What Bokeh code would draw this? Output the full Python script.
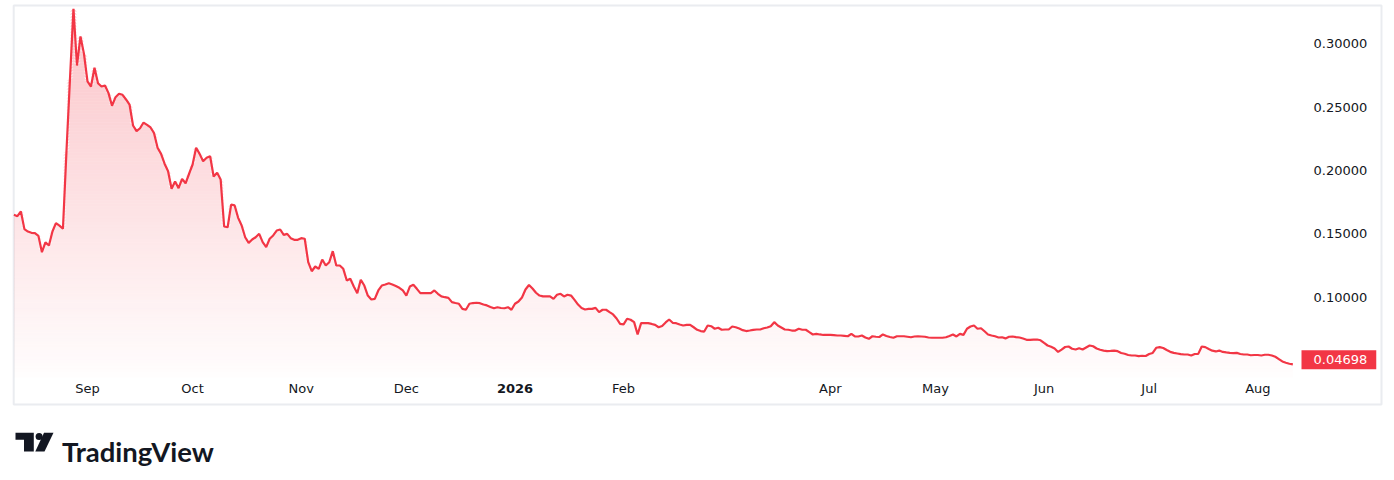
import numpy as np
import pandas as pd
from bokeh.plotting import figure
from bokeh.models import (Range1d, LinearAxis, DatetimeAxis, FixedTicker,
                          NumeralTickFormatter, DatetimeTickFormatter, Label)
from bokeh.core.properties import value
from bokeh.embed import file_html
from bokeh.resources import INLINE

# ---------------- data ----------------
START_DATE = "2025-08-11"
prices = [
    0.1650, 0.1639, 0.1676, 0.1537, 0.1518, 0.1508, 0.1505, 0.1484, 0.1355, 0.1432,
    0.1408, 0.1518, 0.1584, 0.1565, 0.1540, 0.2150, 0.2720, 0.3276, 0.2828, 0.3057,
    0.2920, 0.2702, 0.2662, 0.2810, 0.2688, 0.2662, 0.2670, 0.2610, 0.2510, 0.2578,
    0.2605, 0.2597, 0.2560, 0.2520, 0.2355, 0.2310, 0.2333, 0.2378, 0.2360, 0.2339,
    0.2294, 0.2179, 0.2131, 0.2053, 0.1994, 0.1855, 0.1913, 0.1860, 0.1934, 0.1899,
    0.1974, 0.2047, 0.2179, 0.2131, 0.2073, 0.2100, 0.2112, 0.1952, 0.1982, 0.1929,
    0.1558, 0.1552, 0.1731, 0.1724, 0.1626, 0.1566, 0.1473, 0.1429, 0.1455, 0.1473,
    0.1500, 0.1434, 0.1395, 0.1461, 0.1487, 0.1526, 0.1534, 0.1492, 0.1500, 0.1466,
    0.1453, 0.1453, 0.1466, 0.1461, 0.1276, 0.1205, 0.1242, 0.1224, 0.1297, 0.1250,
    0.1276, 0.1363, 0.1250, 0.1250, 0.1224, 0.1132, 0.1145, 0.1084, 0.1032, 0.1137,
    0.1092, 0.1013, 0.0982, 0.0987, 0.1053, 0.1092, 0.1100, 0.1110, 0.1100, 0.1088,
    0.1074, 0.1053, 0.1013, 0.1084, 0.1098, 0.1066, 0.1032, 0.1032, 0.1032, 0.1032,
    0.1053, 0.1027, 0.1006, 0.1000, 0.0995, 0.0961, 0.0954, 0.0948, 0.0908, 0.0901,
    0.0948, 0.0954, 0.0956, 0.0953, 0.0942, 0.0935, 0.0923, 0.0913, 0.0921, 0.0915,
    0.0913, 0.0921, 0.0901, 0.0948, 0.0966, 0.0998, 0.1061, 0.1096, 0.1069, 0.1035,
    0.1013, 0.1006, 0.1006, 0.1006, 0.0987, 0.1019, 0.1027, 0.1006, 0.1019, 0.1013,
    0.0979, 0.0942, 0.0915, 0.0903, 0.0908, 0.0908, 0.0916, 0.0882, 0.0901, 0.0901,
    0.0882, 0.0864, 0.0832, 0.0790, 0.0785, 0.0830, 0.0822, 0.0803, 0.0706, 0.0795,
    0.0795, 0.0795, 0.0789, 0.0782, 0.0763, 0.0773, 0.0801, 0.0824, 0.0798, 0.0795,
    0.0785, 0.0777, 0.0782, 0.0782, 0.0763, 0.0743, 0.0733, 0.0729, 0.0777, 0.0771,
    0.0751, 0.0759, 0.0743, 0.0745, 0.0745, 0.0769, 0.0763, 0.0753, 0.0740, 0.0733,
    0.0737, 0.0742, 0.0745, 0.0745, 0.0755, 0.0761, 0.0771, 0.0803, 0.0777, 0.0761,
    0.0745, 0.0743, 0.0737, 0.0737, 0.0751, 0.0743, 0.0743, 0.0724, 0.0706, 0.0711,
    0.0706, 0.0702, 0.0703, 0.0703, 0.0701, 0.0698, 0.0698, 0.0695, 0.0692, 0.0711,
    0.0690, 0.0690, 0.0698, 0.0682, 0.0672, 0.0692, 0.0688, 0.0686, 0.0706, 0.0694,
    0.0686, 0.0680, 0.0692, 0.0692, 0.0692, 0.0688, 0.0684, 0.0690, 0.0691, 0.0690,
    0.0688, 0.0682, 0.0680, 0.0680, 0.0680, 0.0680, 0.0684, 0.0694, 0.0706, 0.0690,
    0.0711, 0.0703, 0.0751, 0.0769, 0.0777, 0.0751, 0.0755, 0.0731, 0.0706, 0.0698,
    0.0692, 0.0682, 0.0684, 0.0675, 0.0688, 0.0690, 0.0685, 0.0682, 0.0674, 0.0664,
    0.0664, 0.0665, 0.0666, 0.0660, 0.0639, 0.0619, 0.0609, 0.0595, 0.0568, 0.0587,
    0.0607, 0.0611, 0.0593, 0.0587, 0.0598, 0.0587, 0.0603, 0.0619, 0.0613, 0.0595,
    0.0585, 0.0579, 0.0575, 0.0576, 0.0579, 0.0574, 0.0560, 0.0554, 0.0544, 0.0540,
    0.0540, 0.0535, 0.0538, 0.0536, 0.0552, 0.0560, 0.0601, 0.0606, 0.0599, 0.0583,
    0.0569, 0.0561, 0.0556, 0.0551, 0.0548, 0.0548, 0.0540, 0.0552, 0.0553, 0.0611,
    0.0606, 0.0591, 0.0578, 0.0572, 0.0579, 0.0568, 0.0564, 0.0561, 0.0559, 0.0561,
    0.0552, 0.0548, 0.0548, 0.0542, 0.0544, 0.0544, 0.0540, 0.0546, 0.0546, 0.0540,
    0.0530, 0.0512, 0.0493, 0.0483, 0.0475, 0.04698,
]
month_ticks = ["2025-09-01", "2025-10-01", "2025-11-01", "2025-12-01", "2026-02-01",
               "2026-04-01", "2026-05-01", "2026-06-01", "2026-07-01", "2026-08-01"]
year_tick = "2026-01-01"
year_label = "2026"
price_ticks = [0.10, 0.15, 0.20, 0.25, 0.30]
brand_name = "TradingView"

# ---------------- style / geometry ----------------
RED = "#f23645"
TXT = "#131722"
FONT = "DejaVu Sans"
BORDER = "#eaecf0"
DAY = 86400000.0
W, H = 1394, 480

dates = pd.date_range(START_DATE, periods=len(prices), freq="D")
t = (dates.values.astype("datetime64[ms]").astype(np.int64)).astype(float)
v = np.array(prices, dtype=float)

PX_PER_DAY = 3.504
FIRST_PX = 13.4          # screen column of the first bar
UPP = 0.000789           # price units per screen pixel
REF_PX, REF_VAL = 296.7, 0.10


def px2x(px):
    return t[0] + (px - FIRST_PX) / PX_PER_DAY * DAY


def py2y(py):
    return REF_VAL + (REF_PX - py) * UPP


p = figure(width=W, height=H, x_range=Range1d(px2x(0), px2x(W)),
           y_range=Range1d(py2y(H), py2y(0)),
           x_axis_type=None, y_axis_type=None, output_backend="svg",
           toolbar_location=None, min_border=0,
           background_fill_color="white", border_fill_color="white",
           outline_line_color=None)

# chart border
p.quad(left=px2x(13.2), right=px2x(1381), top=py2y(5), bottom=py2y(404),
       fill_color=None, line_color=BORDER, line_width=2)

PANE_BOT_PX, PANE_TOP_PX = 377, 5
PANE_BOT = py2y(PANE_BOT_PX)
PANE_TOP = py2y(PANE_TOP_PX)
PANE_RIGHT = px2x(1297)

# vertical gradient under the line: non-overlapping horizontal bands
STEP = 3
band_px = np.arange(PANE_BOT_PX, PANE_TOP_PX - STEP, -STEP)
A_BOT, A_TOP = 0.01, 0.30
for lo_px in band_px:
    lo, hi = py2y(lo_px), py2y(lo_px - STEP)
    if lo > v.max():
        break
    frac = (PANE_BOT_PX - lo_px) / (PANE_BOT_PX - PANE_TOP_PX)
    a = A_BOT + (A_TOP - A_BOT) * frac
    p.varea(x=t, y1=lo, y2=np.clip(v, lo, hi), fill_color=RED, fill_alpha=a)

p.line(t, v, line_color=RED, line_width=2.2)

# price axis (right of the pane)
yax = LinearAxis(ticker=FixedTicker(ticks=price_ticks),
                 formatter=NumeralTickFormatter(format="0.00000"),
                 fixed_location=PANE_RIGHT,
                 axis_line_color=None, major_tick_line_color=None,
                 minor_tick_line_color=None, major_tick_in=0, major_tick_out=0,
                 major_label_standoff=16, major_label_text_font=FONT,
                 major_label_text_font_size="13px", major_label_text_color=TXT)
p.add_layout(yax, "right")

# time axis (below the pane)
tick_ms = [float(pd.Timestamp(s).value // 10**6) for s in month_ticks]
xax = DatetimeAxis(ticker=FixedTicker(ticks=tick_ms),
                   formatter=DatetimeTickFormatter(months="%b", days="%b", years="%b"),
                   fixed_location=PANE_BOT,
                   axis_line_color=None, major_tick_line_color=None,
                   minor_tick_line_color=None, major_tick_in=0, major_tick_out=0,
                   major_label_standoff=3, major_label_text_font=FONT,
                   major_label_text_font_size="13px", major_label_text_color=TXT)
p.add_layout(xax, "below")

year_ms = float(pd.Timestamp(year_tick).value // 10**6)
p.add_layout(Label(x=year_ms, y=py2y(388), text=year_label,
                   text_align="center", text_baseline="middle",
                   text_font=FONT, text_font_size="13px",
                   text_font_style="bold", text_color=TXT))

# last price tag (sits a few px above the line end, as in the pane's price scale)
p.add_layout(Label(x=px2x(1301), y=v[-1] + 4.7 * UPP, text=f"{v[-1]:.5f}",
                   text_align="left", text_baseline="middle",
                   text_font=FONT, text_font_size="13px",
                   text_color="white", background_fill_color=RED,
                   padding=(12, 9, 5, 5)))

# ---------------- brand logo ----------------
logo_x = [[15, 33.3, 33.3, 23.5, 23.5, 15], [43.5, 53, 44, 34.8]]
logo_y = [[432.3, 432.3, 451, 451, 439.3, 439.3], [432.3, 432.3, 451, 451]]
p.patches(xs=[[px2x(a) for a in row] for row in logo_x],
          ys=[[py2y(b) for b in row] for row in logo_y],
          fill_color=TXT, line_color=None)
p.circle(x=[px2x(38.6)], y=[py2y(435.9)], radius=3.5 / PX_PER_DAY * DAY,
         fill_color=TXT, line_color=None)
p.text(x=[px2x(61.5)], y=[py2y(451)], text=[brand_name], text_font=value("Lato"),
       text_font_style="bold", text_font_size="27.5px", text_color=TXT,
       text_baseline="alphabetic", text_align="left")

open("out.html", "w").write(file_html(p, INLINE))
